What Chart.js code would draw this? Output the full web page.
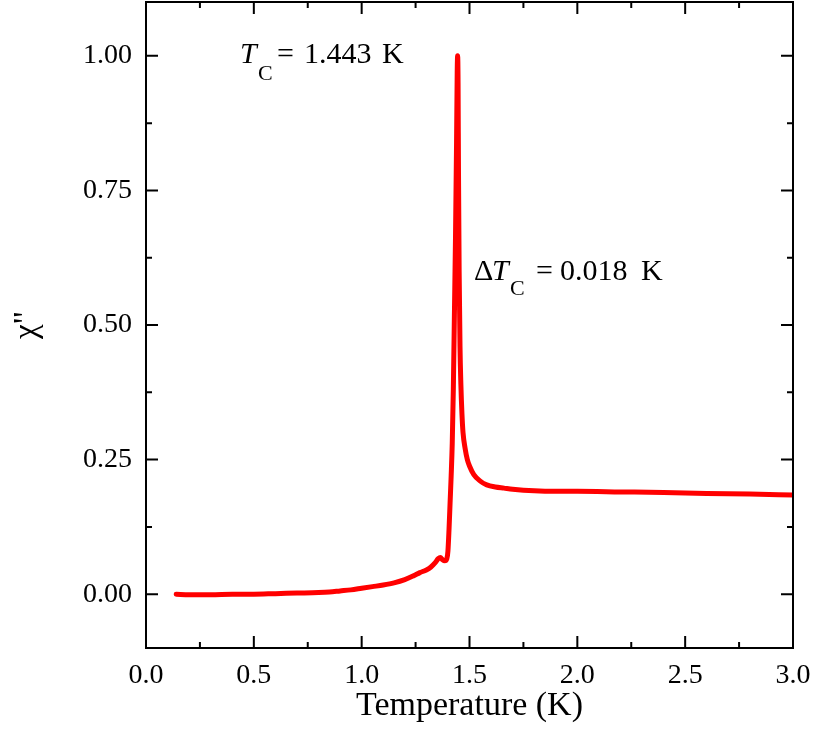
<!DOCTYPE html>
<html>
<head>
<meta charset="utf-8">
<script src="https://cdn.jsdelivr.net/npm/chart.js@4"></script>
<style>
  html, body { margin: 0; padding: 0; background: #fff; }
  #wrap { width: 816px; height: 750px; }
</style>
</head>
<body>
<div id="wrap"><canvas id="chi-chart" width="816" height="750"></canvas></div>
<script>
/* ── Data ── */
const temperature = [
  0.14, 0.2, 0.3, 0.4, 0.5, 0.6, 0.7, 0.8, 0.85, 0.9, 0.95, 1.0, 1.05, 1.1, 1.15,
  1.2, 1.24, 1.27, 1.3, 1.32, 1.34, 1.355, 1.365, 1.375, 1.385, 1.395, 1.40,
  1.405, 1.41, 1.415, 1.42, 1.425, 1.43, 1.435, 1.44, 1.443, 1.445, 1.447,
  1.449, 1.452, 1.456, 1.46, 1.465, 1.47, 1.48, 1.49, 1.50, 1.52, 1.55, 1.58,
  1.62, 1.66, 1.7, 1.8, 1.9, 2.0, 2.2, 2.4, 2.6, 2.8, 3.0
];
const chi2 = [
  0.000, -0.001, -0.001, 0.000, 0.000, 0.001, 0.002, 0.003, 0.004, 0.006, 0.008, 0.011, 0.014, 0.017, 0.021,
  0.027, 0.034, 0.040, 0.045, 0.050, 0.058, 0.066, 0.068, 0.064, 0.062, 0.066, 0.080,
  0.120, 0.170, 0.220, 0.280, 0.380, 0.520, 0.660, 0.840, 0.970, 1.000, 0.950,
  0.780, 0.600, 0.460, 0.390, 0.335, 0.300, 0.270, 0.250, 0.238, 0.222, 0.210, 0.203,
  0.199, 0.197, 0.195, 0.192, 0.191, 0.191, 0.190, 0.189, 0.187, 0.186, 0.184
];
const xTicks = [0.0, 0.5, 1.0, 1.5, 2.0, 2.5, 3.0];
const yTicks = [0.00, 0.25, 0.50, 0.75, 1.00];

const SERIF = "'Liberation Serif', 'Times New Roman', serif";

/* ── Frame with inward major/minor ticks on all four sides ── */
function minorsOf(vals) {
  const out = [];
  for (let i = 0; i < vals.length - 1; i++) out.push((vals[i] + vals[i + 1]) / 2);
  return out;
}

const framePlugin = {
  id: 'frame',
  afterDatasetsDraw(chart) {
    const { ctx, chartArea: a, scales: { x, y } } = chart;
    const major = 12, minor = 6;
    ctx.save();
    ctx.strokeStyle = '#000';
    ctx.lineWidth = 2;
    ctx.strokeRect(a.left, a.top, a.right - a.left, a.bottom - a.top);
    ctx.beginPath();
    const xMaj = x.ticks.map(t => t.value);
    const yMaj = y.ticks.map(t => t.value);
    const xTick = (v, len) => {
      const px = x.getPixelForValue(v);
      ctx.moveTo(px, a.bottom); ctx.lineTo(px, a.bottom - len);
      ctx.moveTo(px, a.top); ctx.lineTo(px, a.top + len);
    };
    const yTick = (v, len) => {
      const py = y.getPixelForValue(v);
      ctx.moveTo(a.left, py); ctx.lineTo(a.left + len, py);
      ctx.moveTo(a.right, py); ctx.lineTo(a.right - len, py);
    };
    xMaj.forEach(v => xTick(v, major));
    minorsOf(xMaj).forEach(v => xTick(v, minor));
    yMaj.forEach(v => yTick(v, major));
    minorsOf(yMaj).forEach(v => yTick(v, minor));
    ctx.stroke();
    ctx.restore();
  },
  afterDraw(chart) {
    const ctx = chart.ctx;
    ctx.save();
    ctx.fillStyle = '#000';
    ctx.textBaseline = 'alphabetic';
    const put = (txt, px, py, size, italic) => {
      ctx.font = (italic ? 'italic ' : '') + size + 'px ' + SERIF;
      ctx.fillText(txt, px, py);
    };
    // T_C = 1.443 K
    put('T', 240, 63, 30, true);
    put('C', 258, 80, 22, false);
    put('=', 277, 63, 30, false);
    put('1.443', 304, 63, 30, false);
    put('K', 382, 63, 30, false);
    // ΔT_C = 0.018 K
    put('\u0394', 474, 280, 30, false);
    put('T', 492, 280, 30, true);
    put('C', 510, 295, 22, false);
    put('=', 536, 280, 30, false);
    put('0.018', 560, 280, 30, false);
    put('K', 641, 280, 30, false);
    ctx.restore();
  }
};

function initChart() {
  const el = document.getElementById('chi-chart');
  new Chart(el, {
    type: 'line',
    data: {
      datasets: [{
        label: 'chi2',
        data: temperature.map((t, i) => ({ x: t, y: chi2[i] })),
        borderColor: '#ff0000',
        borderWidth: 5,
        borderJoinStyle: 'round',
        borderCapStyle: 'round',
        cubicInterpolationMode: 'monotone',
        pointRadius: 0,
        fill: false,
      }]
    },
    options: {
      responsive: false,
      animation: false,
      devicePixelRatio: 1,
      layout: { padding: { left: 0, right: 23, top: 2, bottom: 0 } },
      plugins: { legend: { display: false }, tooltip: { enabled: false } },
      scales: {
        x: {
          type: 'linear', min: 0, max: 3.0,
          afterBuildTicks: s => { s.ticks = xTicks.map(v => ({ value: v })); },
          afterFit: s => { s.height = 102; s.paddingLeft = 0; s.paddingRight = 0; },
          grid: { display: false, drawTicks: false },
          border: { display: false },
          ticks: {
            color: '#000', padding: 11,
            font: { family: SERIF, size: 28 },
            callback: v => Number(v).toFixed(1)
          },
          title: {
            display: true, text: 'Temperature (K)', color: '#000',
            font: { family: SERIF, size: 34 },
            padding: { top: 0, bottom: 24 }
          }
        },
        y: {
          type: 'linear', min: -0.1, max: 1.1,
          afterBuildTicks: s => { s.ticks = yTicks.map(v => ({ value: v })); },
          afterFit: s => { s.width = 146; s.paddingTop = 0; s.paddingBottom = 0; },
          grid: { display: false, drawTicks: false },
          border: { display: false },
          ticks: {
            color: '#000', padding: 14,
            font: { family: SERIF, size: 28 },
            callback: v => Number(v).toFixed(2)
          },
          title: {
            display: true, text: 'χ"', color: '#000',
            font: { family: SERIF, size: 33 },
            padding: { top: 8, bottom: 0 }
          }
        }
      }
    },
    plugins: [framePlugin]
  });
}

document.addEventListener('DOMContentLoaded', initChart);
</script>
</body>
</html>
